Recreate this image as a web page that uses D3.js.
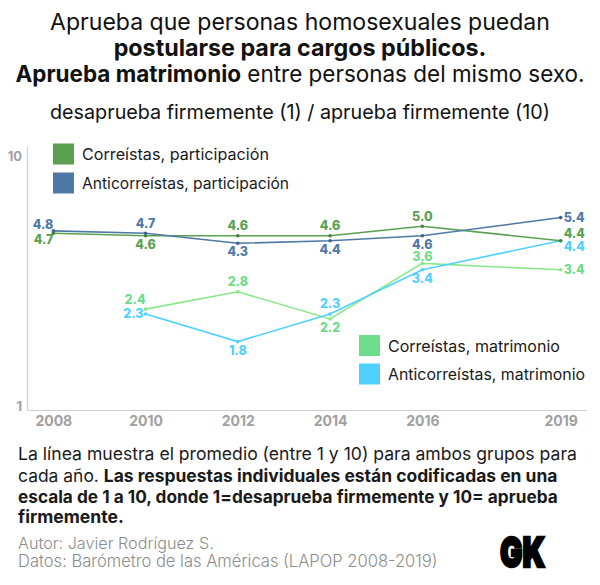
<!DOCTYPE html>
<html>
<head>
<meta charset="utf-8">
<script src="https://cdn.jsdelivr.net/npm/d3@7"></script>
<style>
  html, body { margin: 0; padding: 0; background: #fff; }
  svg { display: block; }
  text { font-family: "Inter", "Noto Sans", sans-serif; }
</style>
</head>
<body>
<svg id="chart" width="600" height="585"></svg>
<script>
// ---------------- DATA ----------------
const years = [2008, 2010, 2012, 2014, 2016, 2019];
const correistasParticipacion = [4.7, 4.6, 4.6, 4.6, 5.0, 4.4];
const anticorreistasParticipacion = [4.8, 4.7, 4.3, 4.4, 4.6, 5.4];
const correistasMatrimonio = [null, 2.4, 2.8, 2.2, 3.6, 3.4];
const anticorreistasMatrimonio = [null, 2.3, 1.8, 2.3, 3.4, 4.4];
const seriesNames = ["Correístas, participación", "Anticorreístas, participación",
                     "Correístas, matrimonio", "Anticorreístas, matrimonio"];
const yTickValues = [1, 10];
const xTickLabels = ["2008", "2010", "2012", "2014", "2016", "2019"];

// ---------------- STYLE / LAYOUT ----------------
const colors = ["#59a14f", "#4e79a7", "#8ae88a", "#4fd0ff"];
const labelColors = ["#59a14f", "#4e79a7", "#6ddc8b", "#4fd0ff"];
const legendColors = ["#59a14f", "#4e79a7", "#6ddc8b", "#4fd0ff"];
// label placement per point
const placements = [
  ["bl", "b", "a", "a", "a", "ru"],
  ["al1", "a", "b", "b", "b", "r"],
  [null, "al", "a", "b", "a2", "r"],
  [null, "l", "b", "a", "b", "rd"]
];
const anchorOf = { a: "middle", a2: "middle", b: "middle", al: "end", al1: "end", bl: "end", l: "end", r: "start", ru: "start", rd: "start" };
const dyOf = { a: -5.5, a2: -2, b: 13, al: -5, al1: -1.5, bl: 11, l: 4.5, r: 4.5, ru: -2.5, rd: 10.5 };

const svg = d3.select("#chart");
const x = d3.scaleLinear().domain([2008, 2019]).range([53.3, 560.7]);
const y = d3.scaleLog().domain([1, 10]).range([408, 148]);

function fit(sel, target) {
  const w = sel.node().getComputedTextLength();
  const fs = parseFloat(sel.attr("font-size"));
  sel.attr("font-size", (fs * target / w).toFixed(2));
}

// ---------------- TITLE ----------------
const t1 = svg.append("text").attr("x", 300).attr("y", 30).attr("text-anchor", "middle")
  .attr("font-size", 20).attr("fill", "#111").text("Aprueba que personas homosexuales puedan");
fit(t1, 500);
const t2 = svg.append("text").attr("x", 300).attr("y", 56).attr("text-anchor", "middle")
  .attr("font-size", 20).attr("font-weight", 700).attr("fill", "#111").text("postularse para cargos públicos.");
fit(t2, 373);
const t3 = svg.append("text").attr("x", 300).attr("y", 82).attr("text-anchor", "middle")
  .attr("font-size", 20).attr("fill", "#111");
t3.append("tspan").attr("font-weight", 700).text("Aprueba matrimonio");
t3.append("tspan").text(" entre personas del mismo sexo.");
fit(t3, 569);
const st = svg.append("text").attr("x", 300).attr("y", 119).attr("text-anchor", "middle")
  .attr("font-size", 18).attr("fill", "#111").text("desaprueba firmemente (1) / aprueba firmemente (10)");
fit(st, 500);

// ---------------- AXES ----------------
svg.append("line").attr("x1", 27.5).attr("x2", 27.5).attr("y1", 147).attr("y2", 410)
  .attr("stroke", "#cfcfcf").attr("stroke-width", 1.2);
svg.append("line").attr("x1", 27).attr("x2", 587).attr("y1", 410.5).attr("y2", 410.5)
  .attr("stroke", "#cfcfcf").attr("stroke-width", 1.2);

const xAxis = svg.append("g").attr("transform", "translate(0,410)")
  .call(d3.axisBottom(x).tickValues(years).tickSize(0).tickPadding(6)
        .tickFormat((d, i) => xTickLabels[i]));
xAxis.select(".domain").remove();
xAxis.selectAll("text").attr("font-size", 14).attr("font-weight", 700).attr("fill", "#a0a0a0")
  .attr("font-family", "Inter, sans-serif");

const yAxis = svg.append("g").attr("transform", "translate(24,0)")
  .call(d3.axisLeft(y).tickValues(yTickValues).tickSize(0).tickPadding(2).tickFormat(d3.format("d")));
yAxis.select(".domain").remove();
yAxis.selectAll("text").attr("font-size", 13).attr("font-weight", 700).attr("fill", "#a0a0a0")
  .attr("font-family", "Inter, sans-serif")
  .attr("dy", d => d === 10 ? "0.95em" : "0.2em");

// ---------------- LINES ----------------
const allSeries = [correistasParticipacion, anticorreistasParticipacion,
                   correistasMatrimonio, anticorreistasMatrimonio];
const line = d3.line().defined(d => d.v != null).x(d => x(d.year)).y(d => y(d.v));

const drawOrder = [2, 3, 0, 1];
drawOrder.forEach(si => {
  const pts = years.map((yr, i) => ({ year: yr, v: allSeries[si][i], p: placements[si][i] }));
  const g = svg.append("g");
  g.append("path").datum(pts).attr("d", line).attr("fill", "none")
    .attr("stroke", colors[si]).attr("stroke-width", 1.6);
  const valid = pts.filter(d => d.v != null);
  g.selectAll("circle").data(valid).join("circle")
    .attr("cx", d => x(d.year)).attr("cy", d => y(d.v)).attr("r", 1.8)
    .attr("fill", si < 2 ? d3.color(colors[si]).darker(0.6) : colors[si]);
  g.selectAll("text").data(valid).join("text")
    .attr("font-size", 12.5).attr("font-weight", 800).attr("fill", labelColors[si])
    .attr("font-family", "Inter, sans-serif")
    .attr("text-anchor", d => anchorOf[d.p])
    .attr("x", d => {
      const px = x(d.year);
      const a = anchorOf[d.p];
      if (a === "middle") return px;
      if (d.p === "l") return px - 2;
      if (a === "end") return px;
      return px + 3;
    })
    .attr("y", d => y(d.v) + dyOf[d.p])
    .text(d => d.v.toFixed(1));
});

// ---------------- LEGENDS ----------------
function legend(items, x0, y0, gap, widths) {
  items.forEach((si, k) => {
    const yy = y0 + k * gap;
    svg.append("rect").attr("x", x0).attr("y", yy).attr("width", 21).attr("height", 21)
      .attr("fill", legendColors[si]);
    const tx = svg.append("text").attr("x", x0 + 29).attr("y", yy + 16.5)
      .attr("font-size", 15).attr("fill", "#1a1a1a").text(seriesNames[si]);
    fit(tx, widths[k]);
  });
}
legend([0, 1], 53, 143.5, 29, [187, 207]);
legend([2, 3], 359, 335, 28.5, [172, 197]);

// ---------------- FOOTER ----------------
const foot = svg.append("g").attr("fill", "#1a1a1a");
const f1 = foot.append("text").attr("x", 18).attr("y", 460).attr("font-size", 15)
  .text("La línea muestra el promedio (entre 1 y 10) para ambos grupos para");
fit(f1, 559);
const fs = f1.attr("font-size");
const f2 = foot.append("text").attr("x", 18).attr("y", 481.5).attr("font-size", fs);
f2.append("tspan").text("cada año. ");
f2.append("tspan").attr("font-weight", 700).text("Las respuestas individuales están codificadas en una");
const f3 = foot.append("text").attr("x", 18).attr("y", 502.5).attr("font-size", fs).attr("font-weight", 700)
  .text("escala de 1 a 10, donde 1=desaprueba firmemente y 10= aprueba");
const f4 = foot.append("text").attr("x", 18).attr("y", 523).attr("font-size", fs).attr("font-weight", 700)
  .text("firmemente.");
[f2, f3].forEach(t => { if (t.node().getComputedTextLength() > 540) fit(t, 540); });

const a1 = svg.append("text").attr("x", 18).attr("y", 549).attr("font-size", 13)
  .attr("fill", "#8c8c8c").attr("font-weight", 300).text("Autor: Javier Rodríguez S.");
fit(a1, 196);
const a2 = svg.append("text").attr("x", 18).attr("y", 567).attr("font-size", 13)
  .attr("fill", "#8c8c8c").attr("font-weight", 300).text("Datos: Barómetro de las Américas (LAPOP 2008-2019)");
fit(a2, 420);

// GK logo
svg.append("g").attr("transform", "translate(500,567) scale(1,1.3)")
  .append("text").attr("x", 0).attr("y", 0).attr("font-size", 32)
  .attr("font-family", "'Liberation Sans Narrow', 'DejaVu Sans Condensed', sans-serif")
  .attr("font-weight", 900).attr("fill", "#000").attr("stroke", "#000").attr("stroke-width", 2)
  .attr("textLength", 45).attr("lengthAdjust", "spacingAndGlyphs").text("GK");
</script>
</body>
</html>
